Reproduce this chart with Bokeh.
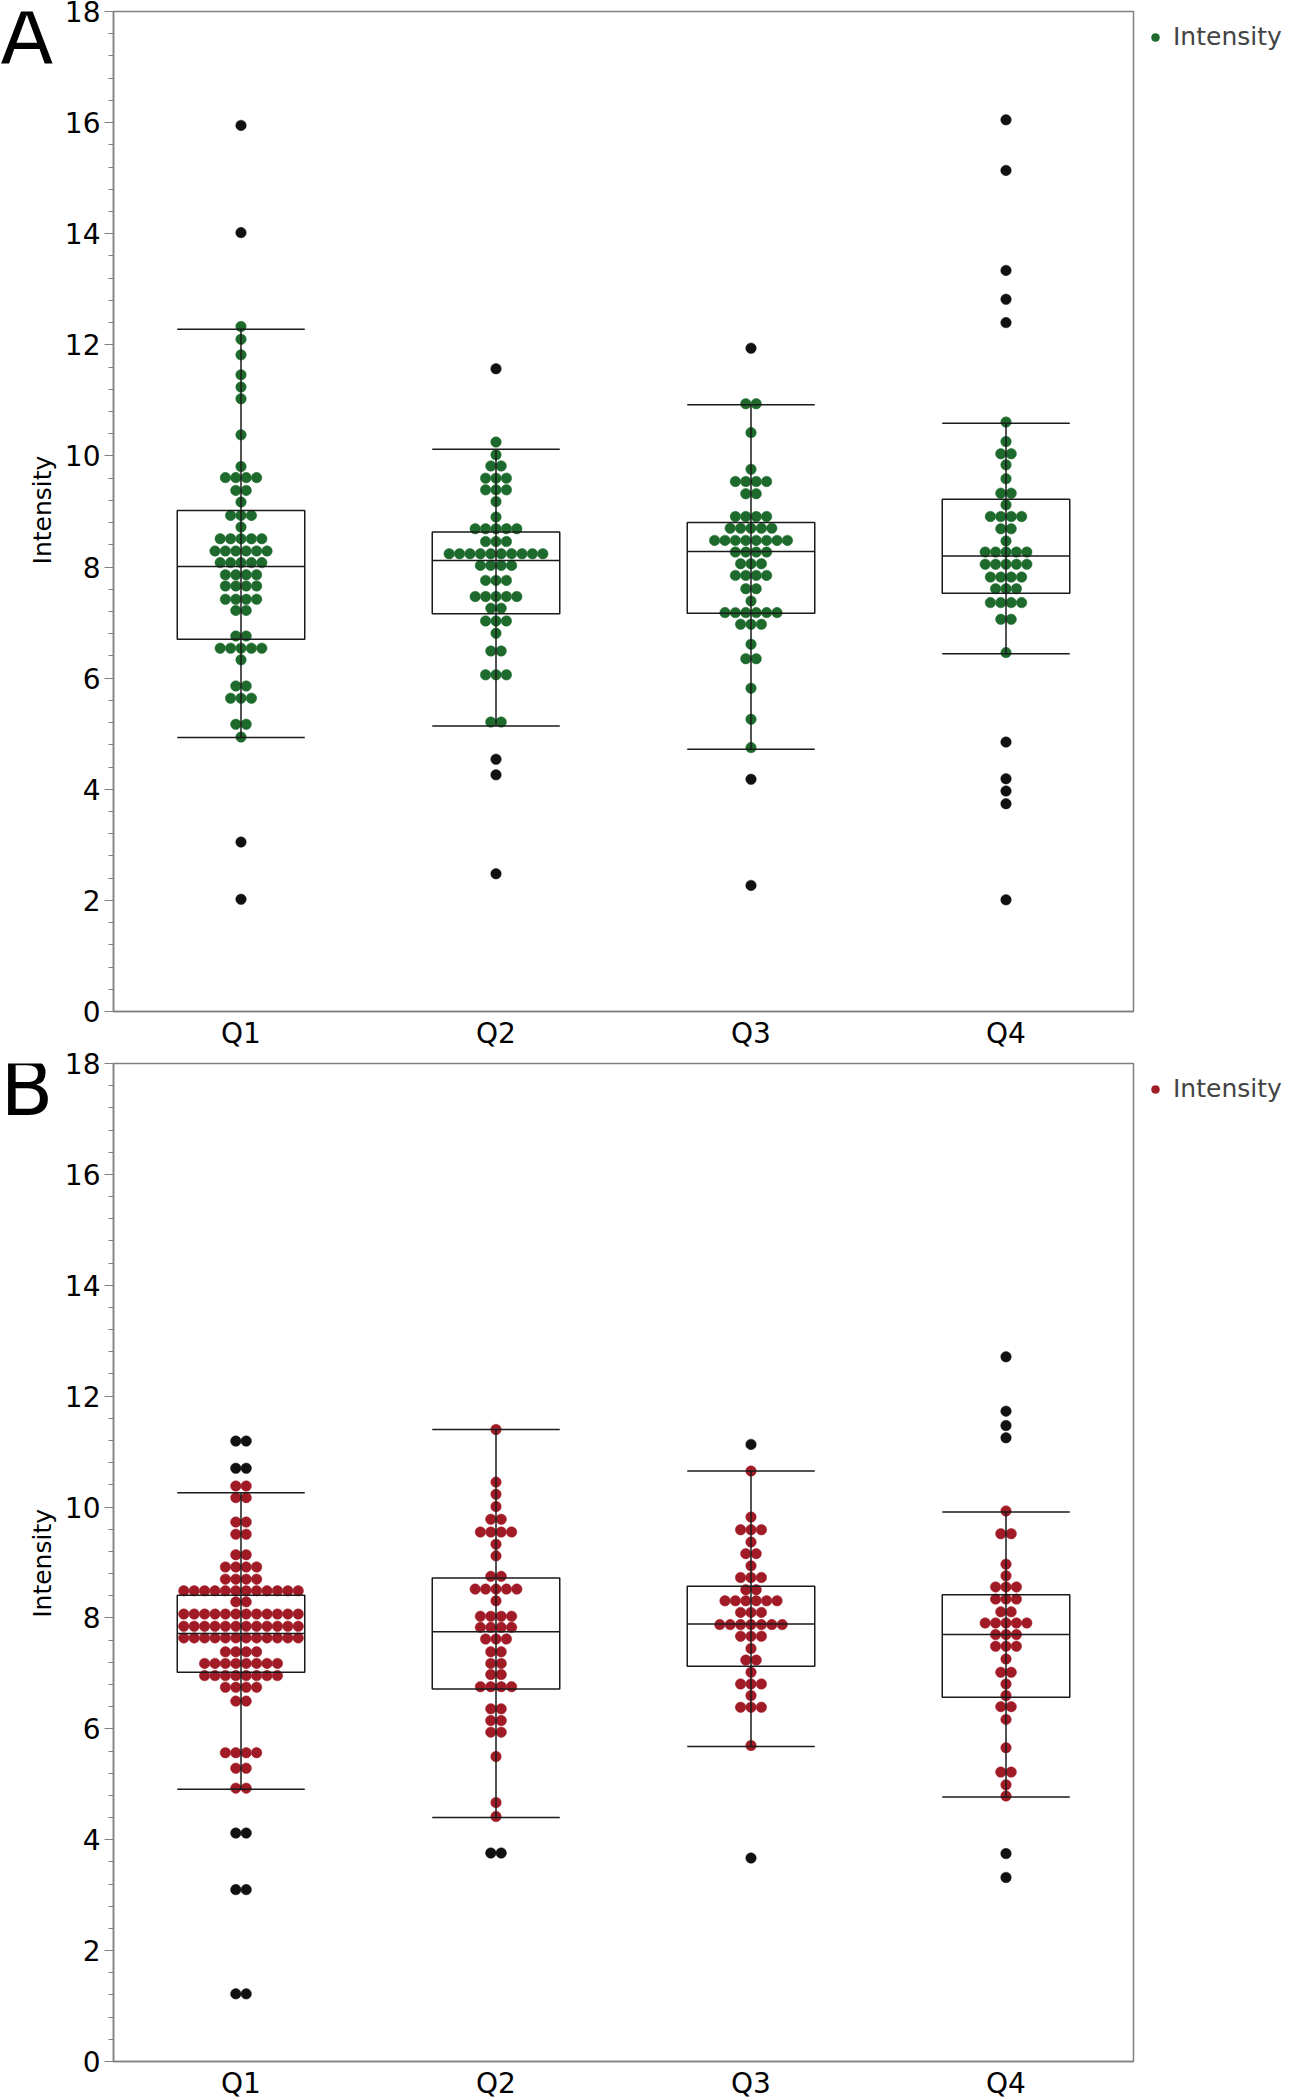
import math
from bokeh.plotting import figure
from bokeh.models import Range1d, FixedTicker, SingleIntervalTicker, Legend, LegendItem
from bokeh.layouts import row, column
from bokeh.core.properties import value
from bokeh.embed import file_html
from bokeh.resources import INLINE

CATEGORIES = ["Q1", "Q2", "Q3", "Q4"]
SERIES_NAME = "Intensity"
Y_LABEL = "Intensity"
PANEL_LETTERS = ["A", "B"]

# ---------------- Panel A (values at each swarm row, and number of points in that row)
A_Q1_VALUES = [12.33, 12.10, 11.82, 11.46, 11.24, 11.03, 10.38, 9.81, 9.61, 9.38, 9.17, 8.93, 8.72, 8.51,
               8.29, 8.08, 7.86, 7.66, 7.42, 7.22, 6.76, 6.54, 6.33, 5.86, 5.64, 5.17, 4.94]
A_Q1_COUNTS = [1, 1, 1, 1, 1, 1, 1, 1, 4, 2, 1, 3, 1, 5, 6, 5, 4, 4, 4, 2, 2, 5, 1, 2, 3, 2, 1]
A_Q1_OUT_VALUES = [15.95, 14.02, 3.05, 2.02]
A_Q1_OUT_COUNTS = [1, 1, 1, 1]

A_Q2_VALUES = [10.25, 10.02, 9.82, 9.60, 9.39, 9.18, 8.90, 8.69, 8.46, 8.24, 8.03, 7.76, 7.47, 7.26, 7.03,
               6.81, 6.49, 6.06, 5.21]
A_Q2_COUNTS = [1, 1, 2, 3, 3, 1, 1, 5, 3, 10, 4, 3, 5, 2, 3, 1, 2, 3, 2]
A_Q2_OUT_VALUES = [11.57, 4.54, 4.26, 2.48]
A_Q2_OUT_COUNTS = [1, 1, 1, 1]

A_Q3_VALUES = [10.94, 10.42, 9.76, 9.54, 9.32, 8.91, 8.70, 8.48, 8.27, 8.06, 7.85, 7.61, 7.39, 7.18, 6.97,
               6.61, 6.35, 5.82, 5.26, 4.75]
A_Q3_COUNTS = [2, 1, 1, 4, 2, 4, 5, 8, 4, 3, 4, 2, 1, 6, 3, 1, 2, 1, 1, 1]
A_Q3_OUT_VALUES = [11.94, 4.18, 2.27]
A_Q3_OUT_COUNTS = [1, 1, 1]

A_Q4_VALUES = [10.61, 10.26, 10.04, 9.84, 9.59, 9.33, 9.12, 8.91, 8.69, 8.47, 8.27, 8.05, 7.82, 7.61, 7.36,
               7.06, 6.46]
A_Q4_COUNTS = [1, 1, 2, 1, 1, 2, 1, 4, 2, 1, 5, 5, 4, 3, 4, 2, 1]
A_Q4_OUT_VALUES = [16.05, 15.14, 13.34, 12.82, 12.40, 4.85, 4.19, 3.97, 3.74, 2.01]
A_Q4_OUT_COUNTS = [1, 1, 1, 1, 1, 1, 1, 1, 1, 1]

A_WHISKER_LOW = [4.93, 5.14, 4.72, 6.44]
A_BOX_Q1 = [6.70, 7.16, 7.17, 7.53]
A_MEDIAN = [8.01, 8.12, 8.28, 8.20]
A_BOX_Q3 = [9.02, 8.63, 8.80, 9.22]
A_WHISKER_HIGH = [12.28, 10.12, 10.92, 10.59]

# ---------------- Panel B
B_Q1_VALUES = [10.38, 10.17, 9.73, 9.51, 9.14, 8.92, 8.70, 8.49, 8.29, 8.07, 7.85, 7.64, 7.39, 7.18, 6.96,
               6.75, 6.50, 5.57, 5.29, 4.93]
B_Q1_COUNTS = [2, 2, 2, 2, 2, 4, 4, 12, 2, 12, 12, 12, 4, 8, 8, 4, 2, 4, 2, 2]
B_Q1_OUT_VALUES = [11.19, 10.70, 4.12, 3.10, 1.22]
B_Q1_OUT_COUNTS = [2, 2, 2, 2, 2]

B_Q2_VALUES = [11.40, 10.45, 10.23, 10.01, 9.78, 9.55, 9.33, 9.12, 8.75, 8.52, 8.31, 8.03, 7.83, 7.62, 7.39,
               7.18, 6.98, 6.76, 6.36, 6.15, 5.94, 5.50, 4.67, 4.42]
B_Q2_COUNTS = [1, 1, 1, 1, 2, 4, 1, 1, 2, 5, 1, 4, 4, 3, 2, 2, 2, 4, 2, 2, 2, 1, 1, 1]
B_Q2_OUT_VALUES = [3.76]
B_Q2_OUT_COUNTS = [2]

B_Q3_VALUES = [10.65, 9.82, 9.59, 9.37, 9.16, 8.94, 8.73, 8.51, 8.31, 8.10, 7.88, 7.67, 7.45, 7.24, 7.02,
               6.81, 6.60, 6.39, 5.70]
B_Q3_COUNTS = [1, 1, 3, 1, 2, 1, 3, 2, 6, 3, 7, 3, 1, 2, 1, 3, 1, 3, 1]
B_Q3_OUT_VALUES = [11.13, 3.67]
B_Q3_OUT_COUNTS = [1, 1]

B_Q4_VALUES = [9.93, 9.52, 8.97, 8.76, 8.56, 8.34, 8.11, 7.91, 7.70, 7.49, 7.26, 7.02, 6.81, 6.60, 6.40,
               6.17, 5.66, 5.22, 4.99, 4.79]
B_Q4_COUNTS = [1, 2, 1, 1, 3, 3, 2, 5, 3, 3, 1, 2, 1, 1, 2, 1, 1, 2, 1, 1]
B_Q4_OUT_VALUES = [12.71, 11.73, 11.47, 11.25, 3.75, 3.32]
B_Q4_OUT_COUNTS = [1, 1, 1, 1, 1, 1]

B_WHISKER_LOW = [4.91, 4.40, 5.68, 4.77]
B_BOX_Q1 = [7.02, 6.72, 7.13, 6.57]
B_MEDIAN = [7.72, 7.75, 7.89, 7.70]
B_BOX_Q3 = [8.41, 8.72, 8.57, 8.42]
B_WHISKER_HIGH = [10.26, 11.40, 10.65, 9.91]

# ---------------- styles / layout
FONT = "DejaVu Sans"
GREEN = "#1d6a2c"
RED = "#a11b26"
OUTLIER = "#111111"
FRAME_GRAY = "#808080"
LINE = "#1a1a1a"
DOT_SIZE = 10.5
DOT_STEP = 0.0408      # horizontal step between neighbouring dots (x units)
BOX_HALF = 0.25
SIDE_W = 61            # strip holding the panel letter and the y label
BORDER_LEFT = 50
BORDER_RIGHT = 160
BORDER_TOP = 11
BORDER_BOTTOM = 40
FRAME_W = 1020


def swarm(pos, values, counts):
    xs, ys = [], []
    for v, n in zip(values, counts):
        for i in range(n):
            xs.append(pos + (i - (n - 1) / 2.0) * DOT_STEP)
            ys.append(v)
    return xs, ys


def make_panel(color, groups, box, frame_h):
    wlo, bq1, med, bq3, whi = box
    p = figure(frame_width=FRAME_W, frame_height=frame_h, x_range=Range1d(0.5, 4.5), y_range=Range1d(0, 18),
               output_backend="svg", toolbar_location=None,
               min_border_left=BORDER_LEFT, min_border_right=BORDER_RIGHT,
               min_border_top=BORDER_TOP, min_border_bottom=BORDER_BOTTOM)
    p.xgrid.visible = False
    p.ygrid.visible = False
    p.outline_line_color = FRAME_GRAY
    p.outline_line_width = 1.5
    p.background_fill_color = "white"
    p.border_fill_color = "white"

    xin, yin, xout, yout = [], [], [], []
    for k, (vals, cnts, ovals, ocnts) in enumerate(groups):
        pos = k + 1
        a, b = swarm(pos, vals, cnts)
        xin += a
        yin += b
        a, b = swarm(pos, ovals, ocnts)
        xout += a
        yout += b

    r_in = p.scatter(x=xin, y=yin, size=DOT_SIZE, fill_color=color, line_color=color, line_width=0.5)
    p.scatter(x=xout, y=yout, size=DOT_SIZE, fill_color=OUTLIER, line_color=OUTLIER, line_width=0.5)

    pos = [1, 2, 3, 4]
    left = [x - BOX_HALF for x in pos]
    right = [x + BOX_HALF for x in pos]
    p.segment(x0=pos, y0=wlo, x1=pos, y1=whi, line_color=LINE, line_width=1.5)
    p.segment(x0=left, y0=wlo, x1=right, y1=wlo, line_color=LINE, line_width=1.5)
    p.segment(x0=left, y0=whi, x1=right, y1=whi, line_color=LINE, line_width=1.5)
    p.quad(left=left, right=right, bottom=bq1, top=bq3, fill_color=None, line_color=LINE, line_width=1.5)
    p.segment(x0=left, y0=med, x1=right, y1=med, line_color=LINE, line_width=1.5)

    yax = p.yaxis[0]
    yax.ticker = SingleIntervalTicker(interval=2, num_minor_ticks=5)
    yax.major_label_text_font = FONT
    yax.major_label_text_font_size = "28px"
    yax.major_label_text_color = "black"
    yax.major_label_standoff = 4
    yax.axis_line_color = FRAME_GRAY
    yax.axis_line_width = 1.5
    yax.major_tick_line_color = FRAME_GRAY
    yax.minor_tick_line_color = FRAME_GRAY
    yax.major_tick_in = 0
    yax.major_tick_out = 9
    yax.minor_tick_in = 0
    yax.minor_tick_out = 5

    xax = p.xaxis[0]
    xax.ticker = FixedTicker(ticks=pos)
    xax.major_label_overrides = {i + 1: c for i, c in enumerate(CATEGORIES)}
    xax.major_label_text_font = FONT
    xax.major_label_text_font_size = "28px"
    xax.major_label_text_color = "black"
    xax.major_label_standoff = 5
    xax.axis_line_color = FRAME_GRAY
    xax.axis_line_width = 1.5
    xax.major_tick_line_color = None
    xax.minor_tick_line_color = None
    xax.major_tick_out = 0
    xax.major_tick_in = 0

    legend = Legend(items=[LegendItem(label=SERIES_NAME, renderers=[r_in])], location="top_left",
                    margin=11, padding=0, spacing=0, border_line_color=None,
                    background_fill_alpha=0, label_text_font=FONT, label_text_font_size="25px",
                    label_standoff=7, glyph_width=22, glyph_height=20)
    p.add_layout(legend, "right")
    return p


def make_side(letter, letter_y, label_y, frame_h):
    h = BORDER_TOP + frame_h + BORDER_BOTTOM
    f = figure(width=SIDE_W, height=h, x_range=Range1d(0, SIDE_W), y_range=Range1d(h, 0),
               output_backend="svg", toolbar_location=None, min_border=0,
               x_axis_location=None, y_axis_location=None)
    f.outline_line_color = None
    f.xgrid.visible = False
    f.ygrid.visible = False
    f.background_fill_color = "white"
    f.border_fill_color = "white"
    f.text(x=[0], y=[letter_y], text=[letter], text_font=value(FONT), text_font_size="77px",
           text_color="black", text_baseline="alphabetic", text_align="left")
    f.text(x=[42], y=[label_y], text=[Y_LABEL], angle=math.pi / 2,
           text_font=value(FONT), text_font_size="25px", text_color="black",
           text_baseline="middle", text_align="center")
    return f


groups_a = [(A_Q1_VALUES, A_Q1_COUNTS, A_Q1_OUT_VALUES, A_Q1_OUT_COUNTS),
            (A_Q2_VALUES, A_Q2_COUNTS, A_Q2_OUT_VALUES, A_Q2_OUT_COUNTS),
            (A_Q3_VALUES, A_Q3_COUNTS, A_Q3_OUT_VALUES, A_Q3_OUT_COUNTS),
            (A_Q4_VALUES, A_Q4_COUNTS, A_Q4_OUT_VALUES, A_Q4_OUT_COUNTS)]
groups_b = [(B_Q1_VALUES, B_Q1_COUNTS, B_Q1_OUT_VALUES, B_Q1_OUT_COUNTS),
            (B_Q2_VALUES, B_Q2_COUNTS, B_Q2_OUT_VALUES, B_Q2_OUT_COUNTS),
            (B_Q3_VALUES, B_Q3_COUNTS, B_Q3_OUT_VALUES, B_Q3_OUT_COUNTS),
            (B_Q4_VALUES, B_Q4_COUNTS, B_Q4_OUT_VALUES, B_Q4_OUT_COUNTS)]

FRAME_H_A = 1000
FRAME_H_B = 998
pa = make_panel(GREEN, groups_a, (A_WHISKER_LOW, A_BOX_Q1, A_MEDIAN, A_BOX_Q3, A_WHISKER_HIGH), FRAME_H_A)
pb = make_panel(RED, groups_b, (B_WHISKER_LOW, B_BOX_Q1, B_MEDIAN, B_BOX_Q3, B_WHISKER_HIGH), FRAME_H_B)
sa = make_side(PANEL_LETTERS[0], 26.6, 524.5, FRAME_H_A)
sb = make_side(PANEL_LETTERS[1], 26.0, 526.0, FRAME_H_B)

layout = column(row(sa, pa, spacing=0), row(sb, pb, spacing=0), spacing=0)
open("out.html", "w").write(file_html(layout, INLINE))
